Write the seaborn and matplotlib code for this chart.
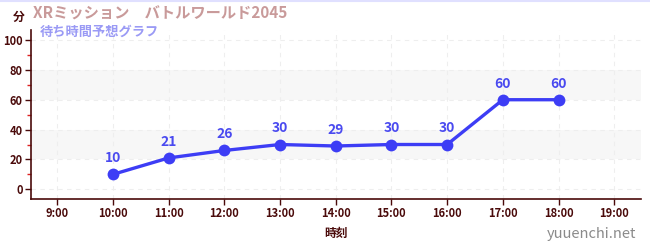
import matplotlib
matplotlib.use("Agg")
import matplotlib.pyplot as plt
import seaborn as sns
import pandas as pd
from matplotlib.ticker import MultipleLocator

hours = [10, 11, 12, 13, 14, 15, 16, 17, 18]
waits = [10, 21, 26, 30, 29, 30, 30, 60, 60]
tick_hours = list(range(9, 20))
tick_labels = [f"{h}:00" for h in tick_hours]
title = "XRミッション　バトルワールド2045"
subtitle = "待ち時間予想グラフ"
xlabel = "時刻"
ylabel = "分"
watermark = "yuuenchi.net"

sns.set_theme(style="white")
plt.rcParams['font.family'] = ['Noto Sans CJK JP', 'DejaVu Sans']

df = pd.DataFrame({"hour": hours, "wait": waits})

fig = plt.figure(figsize=(6.5, 2.5), dpi=100)
ax = fig.add_axes([31/650, 1-199/250, 610/650, 169/250])

dark = "#4a0a0a"
blue = "#3d3df5"

# bands
for lo, hi in [(20, 40), (60, 80)]:
    ax.axhspan(lo, hi, color="#f7f7f7", zorder=0, lw=0)

sns.lineplot(data=df, x="hour", y="wait", ax=ax, color=blue, lw=2.4,
             marker="o", markersize=8.5, markeredgewidth=0, zorder=3)

for h, w in zip(hours, waits):
    ax.annotate(str(w), (h, w), xytext=(0, 6.5), textcoords="offset points",
                ha="center", va="bottom", color="#4a4af0", fontsize=10,
                fontweight="bold")

ax.set_xlim(8.53, 19.48)
ax.set_ylim(-6.5, 106.7)
ax.set_xticks(tick_hours)
ax.set_xticklabels(tick_labels)
ax.set_yticks([0, 20, 40, 60, 80, 100])
ax.yaxis.set_minor_locator(MultipleLocator(10))
ax.grid(True, which="major", color="#eeeeee", ls=(0, (4, 4)), lw=0.8)

ax.tick_params(axis="both", which="major", colors=dark, labelsize=8,
               length=4, width=1, direction="out", pad=2, left=True, bottom=True)
ax.tick_params(axis="y", which="minor", colors="#dd2222", length=3, width=1, left=True)
for lab in ax.get_xticklabels() + ax.get_yticklabels():
    lab.set_fontweight("bold")
    lab.set_color(dark)

for s in ["top", "right"]:
    ax.spines[s].set_visible(False)
for s in ["left", "bottom"]:
    ax.spines[s].set_color(dark)
    ax.spines[s].set_linewidth(1.2)

ax.set_xlabel(xlabel, color=dark, fontsize=8.5, fontweight="bold", labelpad=5)
ax.set_ylabel("")

fig.text(13/650, 1-17/250, ylabel, color=dark, fontsize=8.5, fontweight="bold",
         ha="left", va="center")
fig.text(33/650, 1-14/250, title, color="#c99a9a", fontsize=11, fontweight="bold",
         ha="left", va="center")
fig.text(40/650, 1-32/250, subtitle, color="#9a9af5", fontsize=9.5, fontweight="bold",
         ha="left", va="center")
fig.text(636/650, 1-234/250, watermark, color="#8a8a8a", fontsize=10.5,
         ha="right", va="center")

fig.add_artist(plt.Line2D([0, 1], [1-0.5/250, 1-0.5/250], color="#e0e0ff", lw=1.5))

fig.savefig("out.png", dpi=100)
